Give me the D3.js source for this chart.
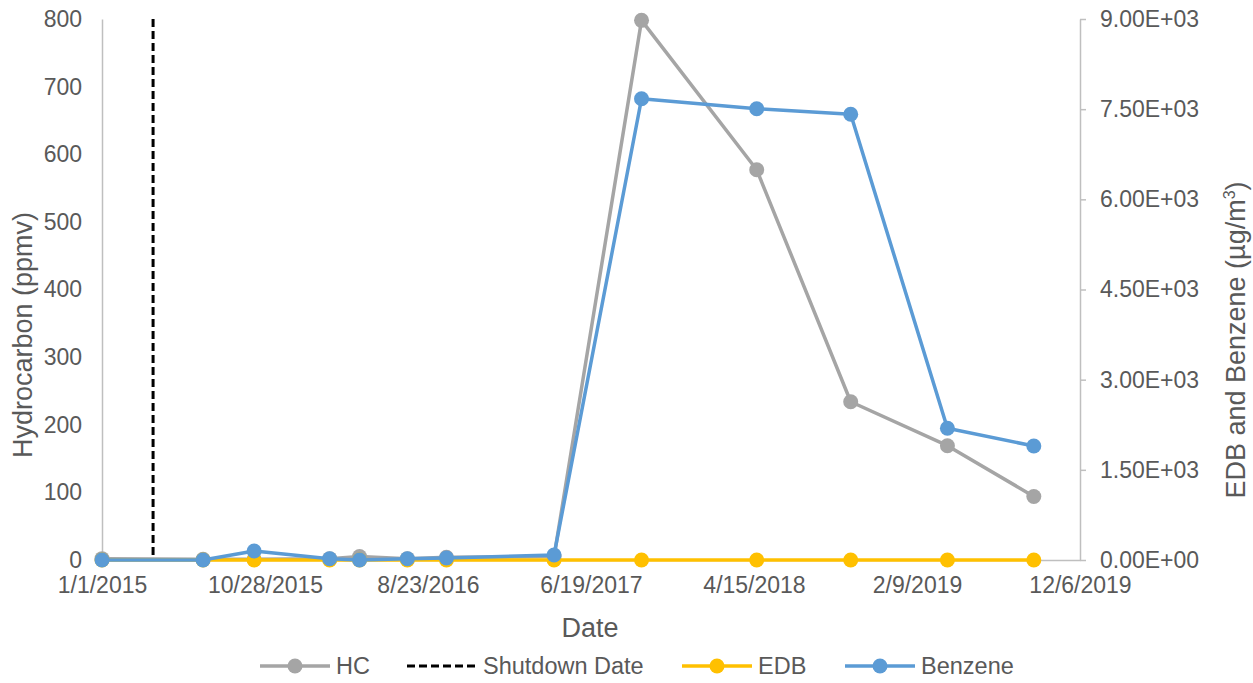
<!DOCTYPE html>
<html>
<head>
<meta charset="utf-8">
<script src="https://cdn.jsdelivr.net/npm/d3@7"></script>
<style>
  html, body { margin: 0; padding: 0; background: #fff; }
  svg { display: block; font-family: "Liberation Sans", Arial, sans-serif; }
</style>
</head>
<body>
<svg id="chart" width="1253" height="683"></svg>
<script>
// ---- Data ----
const sampleDates = ["1/1/2015","7/6/2015","10/8/2015","2/24/2016","4/19/2016","7/16/2016","9/26/2016","4/12/2017","9/20/2017","4/20/2018","10/10/2018","4/6/2019","9/12/2019"];
const hcValues      = [2, 1, 1, 2, 5, 2, 4, 5, 798, 577, 234, 169, 94];
const edbValues     = [0, 0, 0, 0, 0, 0, 0, 0, 0, 0, 0, 0, 0];
const benzeneValues = [0, 0, 150, 20, 0, 20, 33, 83, 7674, 7508, 7415, 2191, 1896];
const shutdownDate  = "4/5/2015";
const xTickLabels   = ["1/1/2015","10/28/2015","8/23/2016","6/19/2017","4/15/2018","2/9/2019","12/6/2019"];
const leftTicks     = [0, 100, 200, 300, 400, 500, 600, 700, 800];
const rightTicks    = [0, 1500, 3000, 4500, 6000, 7500, 9000];
const seriesNames   = ["HC", "Shutdown Date", "EDB", "Benzene"];

// ---- Setup ----
const parse = d3.timeParse("%m/%d/%Y");
const svg = d3.select("#chart");
const m = { left: 102, right: 1080, top: 19, bottom: 560 };
const axisColor = "#bfbfbf", textColor = "#595959";
const colors = { HC: "#a5a5a5", EDB: "#ffc000", Benzene: "#5b9bd5", Shutdown: "#000000" };
const tickFont = "23px", titleFont = "27px", legendFont = "23.5px";

const x = d3.scaleTime()
  .domain([parse(xTickLabels[0]), parse(xTickLabels[xTickLabels.length - 1])])
  .range([m.left, m.right]);
const yL = d3.scaleLinear().domain([0, 800]).range([m.bottom, m.top]);
const yR = d3.scaleLinear().domain([0, 9000]).range([m.bottom, m.top]);

const fmtDate = d => `${d.getMonth() + 1}/${d.getDate()}/${d.getFullYear()}`;
const fmtExp = v => {
  if (v === 0) return "0.00E+00";
  const e = Math.floor(Math.log10(v));
  const mant = v / Math.pow(10, e);
  return mant.toFixed(2) + "E+" + String(e).padStart(2, "0");
};

// ---- Axes ----
const xAxis = svg.append("g").attr("transform", `translate(0,${m.bottom})`)
  .call(d3.axisBottom(x).tickValues(xTickLabels.map(parse)).tickFormat(fmtDate).tickSize(0).tickPadding(17));
xAxis.select(".domain").attr("stroke", axisColor).attr("stroke-width", 1.5);
xAxis.selectAll("text").attr("fill", textColor).style("font-size", tickFont).style("font-family", "Liberation Sans, Arial, sans-serif");

const lAxis = svg.append("g").attr("transform", `translate(${m.left},0)`)
  .call(d3.axisLeft(yL).tickValues(leftTicks).tickSize(0).tickPadding(20));
lAxis.select(".domain").attr("stroke", axisColor).attr("stroke-width", 1.5);
lAxis.selectAll("text").attr("fill", textColor).style("font-size", tickFont).style("font-family", "Liberation Sans, Arial, sans-serif");

const rAxis = svg.append("g").attr("transform", `translate(${m.right},0)`)
  .call(d3.axisRight(yR).tickValues(rightTicks).tickFormat(fmtExp).tickSize(6).tickSizeOuter(0).tickPadding(14));
rAxis.select(".domain").attr("stroke", axisColor).attr("stroke-width", 1.5);
rAxis.selectAll(".tick line").attr("stroke", axisColor).attr("stroke-width", 1.5);
rAxis.selectAll("text").attr("fill", textColor).style("font-size", tickFont).style("font-family", "Liberation Sans, Arial, sans-serif");

// axis titles
svg.append("text").attr("transform", `translate(32,335) rotate(-90)`)
  .attr("text-anchor", "middle").attr("fill", textColor).style("font-size", titleFont)
  .text("Hydrocarbon (ppmv)");
const rt = svg.append("text").attr("transform", `translate(1245,340) rotate(-90)`)
  .attr("text-anchor", "middle").attr("fill", textColor).style("font-size", titleFont);
rt.append("tspan").text("EDB and Benzene (µg/m");
rt.append("tspan").attr("dy", -10).style("font-size", "16px").text("3");
rt.append("tspan").attr("dy", 10).text(")");
svg.append("text").attr("x", 590).attr("y", 637).attr("text-anchor", "middle")
  .attr("fill", textColor).style("font-size", titleFont).text("Date");

// ---- Series ----
const dates = sampleDates.map(parse);
function drawSeries(vals, scale, color) {
  const pts = dates.map((d, i) => [x(d), scale(vals[i])]);
  svg.append("path").attr("d", d3.line()(pts)).attr("fill", "none")
    .attr("stroke", color).attr("stroke-width", 3.5).attr("stroke-linejoin", "round");
  svg.append("g").selectAll("circle").data(pts).join("circle")
    .attr("cx", p => p[0]).attr("cy", p => p[1]).attr("r", 7.5).attr("fill", color);
}
drawSeries(hcValues, yL, colors.HC);
svg.append("line")
  .attr("x1", x(parse(shutdownDate))).attr("x2", x(parse(shutdownDate)))
  .attr("y1", yL(800)).attr("y2", yL(0))
  .attr("stroke", colors.Shutdown).attr("stroke-width", 3).attr("stroke-dasharray", "8,4");
drawSeries(edbValues, yR, colors.EDB);
drawSeries(benzeneValues, yR, colors.Benzene);

// ---- Legend ----
const legendY = 666;
const legendItems = [
  { name: seriesNames[0], color: colors.HC, x0: 260, dashed: false },
  { name: seriesNames[1], color: colors.Shutdown, x0: 407, dashed: true },
  { name: seriesNames[2], color: colors.EDB, x0: 682, dashed: false },
  { name: seriesNames[3], color: colors.Benzene, x0: 845, dashed: false }
];
legendItems.forEach(it => {
  const g = svg.append("g");
  g.append("line").attr("x1", it.x0).attr("x2", it.x0 + 70).attr("y1", legendY).attr("y2", legendY)
    .attr("stroke", it.color).attr("stroke-width", it.dashed ? 3 : 3.5)
    .attr("stroke-dasharray", it.dashed ? "8,4" : null);
  if (!it.dashed) g.append("circle").attr("cx", it.x0 + 35).attr("cy", legendY).attr("r", 7.5).attr("fill", it.color);
  g.append("text").attr("x", it.x0 + 76).attr("y", legendY + 8).attr("fill", textColor)
    .style("font-size", legendFont).text(it.name);
});
</script>
</body>
</html>
